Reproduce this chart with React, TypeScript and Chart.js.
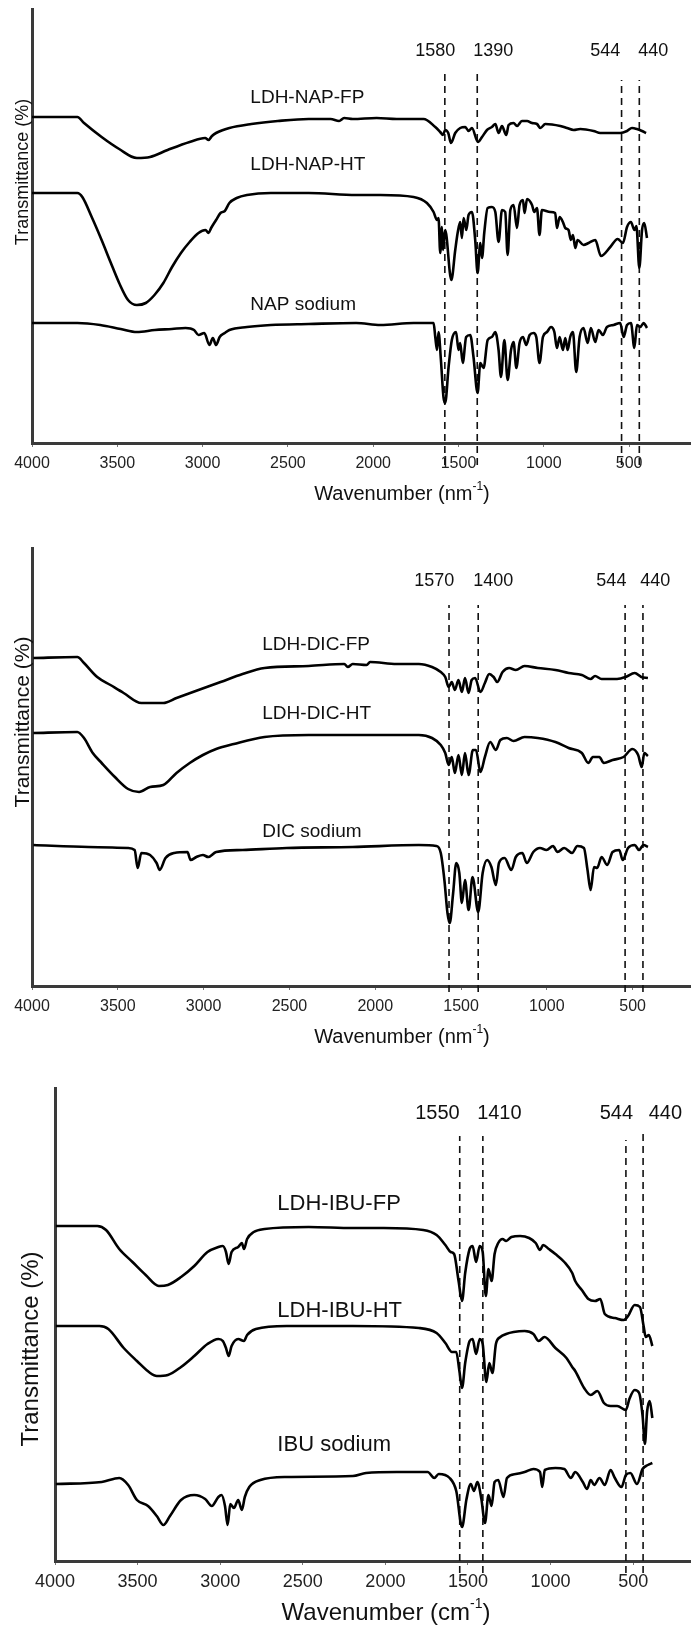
import React, { useEffect, useRef } from 'react';
import { Chart, registerables } from 'chart.js';
Chart.register(...registerables);

type Pt = [number, number];

const tickValues = [4000, 3500, 3000, 2500, 2000, 1500, 1000, 500];

// ---------- Panel 1 : naproxen ----------
const napFP: Pt[] = [[4000,326],[3734,326],[3695,320],[3592,306],[3489,294],[3385,285],[3308,286],[3205,293],[3076,301],[2985,305],[2965,303],[2945,307],[2921,310],[2843,315],[2714,319],[2559,322],[2378,324],[2250,324],[2200,322],[2170,325],[2120,324],[1980,325],[1862,324],[1705,324],[1636,316],[1607,311],[1591,308],[1578,313],[1560,310],[1544,300],[1519,310],[1490,315],[1460,316],[1441,312],[1421,315],[1386,301],[1362,306],[1333,313],[1304,316],[1284,319],[1265,310],[1245,317],[1220,308],[1206,318],[1177,320],[1157,317],[1128,322],[1098,322],[1069,320],[1040,319],[1020,315],[991,319],[903,317],[864,315],[825,313],[786,314],[708,312],[669,310],[551,310],[512,312],[483,315],[454,314],[424,312],[400,310]];
const napHT: Pt[] = [[4000,250],[3734,250],[3705,246],[3650,226],[3592,203],[3540,181],[3489,160],[3437,143],[3385,138],[3333,140],[3282,148],[3230,160],[3179,176],[3127,190],[3076,201],[3024,210],[2983,213],[2965,210],[2950,215],[2921,223],[2895,230],[2870,232],[2843,240],[2800,245],[2740,248],[2600,250],[2378,250],[2100,248],[1958,248],[1763,246],[1685,240],[1646,231],[1626,223],[1617,225],[1607,190],[1597,216],[1591,193],[1578,213],[1542,163],[1519,193],[1505,210],[1490,221],[1480,205],[1470,225],[1454,213],[1441,228],[1421,231],[1402,203],[1388,170],[1372,200],[1362,185],[1349,210],[1329,235],[1304,236],[1284,231],[1265,201],[1245,233],[1226,231],[1212,188],[1196,233],[1177,238],[1157,215],[1142,238],[1122,243],[1113,230],[1098,244],[1069,238],[1056,231],[1040,235],[1025,208],[1011,233],[962,231],[933,230],[923,215],[907,226],[888,221],[874,215],[855,213],[841,203],[829,208],[815,195],[802,203],[767,198],[737,200],[698,203],[665,187],[610,196],[567,204],[536,200],[512,216],[489,221],[469,213],[457,217],[440,175],[424,213],[411,220],[395,205]];
const napSodium: Pt[] = [[4000,120],[3734,120],[3600,118],[3480,114],[3385,111],[3280,113],[3180,114],[3100,115],[3050,113],[3024,108],[2990,110],[2960,98],[2940,105],[2921,98],[2900,106],[2870,110],[2843,113],[2740,116],[2600,118],[2378,119],[2100,120],[1958,118],[1763,120],[1646,120],[1636,106],[1626,93],[1617,111],[1603,83],[1588,46],[1578,40],[1558,76],[1539,103],[1514,111],[1500,93],[1490,100],[1475,80],[1455,106],[1431,108],[1412,86],[1388,50],[1372,80],[1353,75],[1329,103],[1304,106],[1284,111],[1265,93],[1251,66],[1231,103],[1212,63],[1192,93],[1177,101],[1161,75],[1142,100],[1122,106],[1103,98],[1083,108],[1060,110],[1044,106],[1025,80],[1005,106],[981,111],[958,116],[938,111],[923,95],[907,106],[888,93],[874,105],[860,93],[845,106],[829,111],[810,71],[790,106],[767,115],[743,100],[724,115],[698,101],[679,113],[653,108],[630,116],[591,118],[552,120],[532,106],[512,118],[489,120],[469,95],[454,118],[434,116],[415,120],[395,115]];
const napPeaks = [1580, 1390, 544, 440];

// ---------- Panel 2 : diclofenac ----------
const dicFP: Pt[] = [[3992,328],[3736,329],[3697,323],[3620,309],[3543,301],[3466,293],[3363,283],[3235,283],[3158,288],[3030,296],[2901,304],[2773,312],[2645,318],[2388,320],[2180,322],[2160,319],[2131,322],[2050,321],[2030,324],[1875,322],[1746,322],[1669,319],[1618,314],[1592,309],[1572,299],[1554,304],[1536,296],[1515,306],[1495,294],[1477,308],[1456,293],[1438,306],[1418,308],[1387,294],[1361,303],[1336,312],[1310,309],[1289,304],[1258,314],[1220,318],[1181,316],[1130,320],[1053,318],[950,316],[873,313],[796,311],[745,307],[719,310],[681,307],[591,307],[540,309],[488,313],[450,309],[411,308]];
const dicHT: Pt[] = [[3992,253],[3736,254],[3697,248],[3646,233],[3594,223],[3517,209],[3440,197],[3376,194],[3312,199],[3235,201],[3158,213],[3081,223],[3004,231],[2927,237],[2824,242],[2645,249],[2388,251],[2131,251],[1746,251],[1669,248],[1618,241],[1592,233],[1572,221],[1554,229],[1536,213],[1515,231],[1495,211],[1477,233],[1456,211],[1431,236],[1413,236],[1387,214],[1361,229],[1330,244],[1297,236],[1271,246],[1233,248],[1194,245],[1130,249],[1053,248],[950,244],[873,238],[796,233],[758,223],[732,229],[694,229],[668,223],[617,226],[553,229],[502,237],[468,231],[447,219],[432,233],[411,230]];
const dicSodium: Pt[] = [[3992,141],[3671,139],[3440,138],[3402,136],[3384,118],[3363,133],[3312,131],[3274,123],[3256,116],[3222,128],[3171,133],[3094,134],[3076,126],[3042,129],[3004,131],[2973,129],[2927,134],[2773,136],[2516,138],[2131,139],[1746,141],[1644,140],[1618,133],[1597,106],[1579,73],[1566,63],[1546,93],[1528,123],[1510,113],[1495,83],[1477,106],[1456,76],[1433,109],[1400,74],[1374,113],[1348,126],[1323,119],[1297,101],[1279,123],[1246,128],[1207,116],[1181,129],[1143,133],[1117,123],[1079,134],[1040,138],[1002,136],[964,140],[938,134],[899,138],[853,133],[822,140],[784,138],[763,116],[745,96],[725,119],[707,118],[681,129],[648,121],[617,134],[578,136],[558,126],[527,138],[488,141],[463,136],[437,141],[411,139]];
const dicPeaks = [1570, 1400, 544, 440];

// ---------- Panel 3 : ibuprofen ----------
const ibuFP: Pt[] = [[3995,335],[3744,335],[3691,331],[3611,312],[3531,299],[3451,286],[3371,275],[3317,276],[3237,284],[3157,295],[3077,309],[3011,314],[2984,315],[2965,309],[2949,297],[2931,309],[2891,314],[2869,318],[2856,312],[2837,322],[2797,329],[2731,332],[2464,334],[2197,333],[2010,333],[1771,331],[1690,326],[1637,316],[1605,309],[1584,307],[1557,280],[1536,260],[1517,288],[1490,312],[1472,315],[1451,299],[1429,315],[1411,309],[1392,265],[1376,292],[1357,280],[1339,307],[1317,318],[1291,322],[1269,320],[1237,324],[1184,325],[1130,323],[1090,318],[1064,311],[1045,316],[1011,312],[971,307],[917,299],[869,288],[851,280],[811,271],[771,262],[731,260],[699,262],[672,247],[611,243],[557,241],[531,245],[491,256],[459,254],[437,235],[424,224],[405,226],[384,215]];
const ibuHT: Pt[] = [[3995,235],[3731,235],[3677,232],[3584,213],[3504,200],[3424,188],[3384,185],[3317,186],[3237,194],[3157,205],[3077,217],[3011,222],[2984,220],[2965,213],[2949,205],[2931,215],[2891,222],[2856,220],[2837,226],[2784,232],[2597,235],[2197,235],[1797,233],[1690,228],[1637,218],[1597,209],[1571,209],[1552,190],[1536,173],[1517,198],[1490,220],[1472,222],[1451,207],[1429,222],[1411,217],[1389,179],[1371,198],[1352,188],[1331,217],[1304,224],[1269,227],[1224,229],[1157,230],[1104,227],[1072,220],[1037,224],[971,213],[904,203],[869,194],[851,190],[797,173],[757,166],[717,170],[677,158],[637,155],[597,155],[544,151],[523,162],[491,171],[464,168],[443,145],[429,117],[416,149],[400,160],[384,143]];
const ibuSodium: Pt[] = [[3995,77],[3717,79],[3611,83],[3557,76],[3504,61],[3437,55],[3384,45],[3344,36],[3304,45],[3237,61],[3157,66],[3091,62],[3051,55],[3011,64],[2992,66],[2971,55],[2955,36],[2939,57],[2917,53],[2891,61],[2869,51],[2851,64],[2824,74],[2757,81],[2597,84],[2197,85],[2117,88],[1931,89],[1744,89],[1704,83],[1677,87],[1611,83],[1571,70],[1536,34],[1509,62],[1483,77],[1464,70],[1443,79],[1419,62],[1397,38],[1376,66],[1357,55],[1339,79],[1317,81],[1285,64],[1264,83],[1211,87],[1157,89],[1104,92],[1064,89],[1051,74],[1035,91],[971,93],[917,92],[877,83],[851,89],[805,79],[779,72],[757,81],[736,76],[704,83],[672,76],[637,91],[611,83],[571,74],[544,86],[517,88],[477,77],[443,92],[411,96],[384,98]];
const ibuPeaks = [1550, 1410, 544, 440];

const FONT = '"Liberation Sans", Arial, Helvetica, sans-serif';

interface PanelCfg {
  top: number; canvasH: number; padTop: number; left: number; xAxisH: number;
  xMin: number; yMax: number; tickSize: number; tickPad: number;
  curves: Pt[][];
  peaks: number[]; peakTop: number[]; peakBottom: number; peakLabelWn: number[]; peakLabelH: number; peakFont: number;
  names: string[]; nameWn: number; nameH: number[]; nameFont: number;
  yTitle: { x: number; y: number; size: number };
  xTitle: { x: number; y: number; size: number; unit: string };
}

const panels: PanelCfg[] = [
  {
    top: 0, canvasH: 520, padTop: 9, left: 32, xAxisH: 77, xMin: 137, yMax: 434, tickSize: 16, tickPad: 7,
    curves: [napFP, napHT, napSodium],
    peaks: napPeaks, peakTop: [371, 371, 363, 363], peakBottom: -22, peakLabelWn: [1636, 1296, 640, 358], peakLabelH: 392, peakFont: 18,
    names: ['LDH-NAP-FP', 'LDH-NAP-HT', 'NAP sodium'], nameWn: 2720, nameH: [345, 278, 138], nameFont: 19,
    yTitle: { x: 23, y: 172, size: 18 },
    xTitle: { x: 402, y: 494, size: 20, unit: 'nm' },
  },
  {
    top: 520, canvasH: 540, padTop: 28, left: 32, xAxisH: 74, xMin: 160, yMax: 438, tickSize: 16, tickPad: 7,
    curves: [dicFP, dicHT, dicSodium],
    peaks: dicPeaks, peakTop: [381, 381, 381, 381], peakBottom: -6, peakLabelWn: [1656, 1312, 624, 368], peakLabelH: 405, peakFont: 18,
    names: ['LDH-DIC-FP', 'LDH-DIC-HT', 'DIC sodium'], nameWn: 2658, nameH: [341, 272, 154], nameFont: 19,
    yTitle: { x: 23.5, y: 202, size: 21 },
    xTitle: { x: 402, y: 517, size: 20, unit: 'nm' },
  },
  {
    top: 1060, canvasH: 569, padTop: 28, left: 55, xAxisH: 68, xMin: 150, yMax: 473, tickSize: 18, tickPad: 6,
    curves: [ibuFP, ibuHT, ibuSodium],
    peaks: ibuPeaks, peakTop: [425, 425, 421, 431], peakBottom: -12, peakLabelWn: [1685, 1310, 602, 305], peakLabelH: 448, peakFont: 20,
    names: ['LDH-IBU-FP', 'LDH-IBU-HT', 'IBU sodium'], nameWn: 2654, nameH: [357, 250, 116], nameFont: 22,
    yTitle: { x: 31, y: 289, size: 24 },
    xTitle: { x: 386, y: 553, size: 24, unit: 'cm' },
  },
];

function makeTextPlugin(p: PanelCfg) {
  return {
    id: 'panelText',
    afterDraw(chart: any) {
      const { ctx } = chart;
      const xs = chart.scales.x;
      const ys = chart.scales.y;
      ctx.save();
      ctx.fillStyle = '#111';
      ctx.textBaseline = 'middle';
      ctx.font = `${p.peakFont}px ${FONT}`;
      ctx.textAlign = 'center';
      p.peaks.forEach((pk, i) => {
        ctx.fillText(String(pk), xs.getPixelForValue(p.peakLabelWn[i]), ys.getPixelForValue(p.peakLabelH));
      });
      ctx.font = `${p.nameFont}px ${FONT}`;
      ctx.textAlign = 'left';
      p.names.forEach((n, i) => {
        ctx.fillText(n, xs.getPixelForValue(p.nameWn), ys.getPixelForValue(p.nameH[i]));
      });
      ctx.save();
      ctx.translate(p.yTitle.x, p.yTitle.y);
      ctx.rotate(-Math.PI / 2);
      ctx.font = `${p.yTitle.size}px ${FONT}`;
      ctx.textAlign = 'center';
      ctx.fillText('Transmittance (%)', 0, 0);
      ctx.restore();
      const s = p.xTitle.size;
      const main = `Wavenumber (${p.xTitle.unit}`;
      const sup = '-1';
      const tail = ')';
      ctx.font = `${s}px ${FONT}`;
      const wMain = ctx.measureText(main).width;
      const wTail = ctx.measureText(tail).width;
      ctx.font = `${Math.round(s * 0.6)}px ${FONT}`;
      const wSup = ctx.measureText(sup).width;
      const total = wMain + wSup + wTail;
      const x0 = p.xTitle.x - total / 2;
      ctx.textAlign = 'left';
      ctx.font = `${s}px ${FONT}`;
      ctx.fillText(main, x0, p.xTitle.y);
      ctx.font = `${Math.round(s * 0.6)}px ${FONT}`;
      ctx.fillText(sup, x0 + wMain, p.xTitle.y - s * 0.35);
      ctx.font = `${s}px ${FONT}`;
      ctx.fillText(tail, x0 + wMain + wSup, p.xTitle.y);
      ctx.restore();
    },
  };
}

function buildConfig(p: PanelCfg): any {
  const curveSets = p.curves.map((c) => ({
    data: c.map(([x, y]) => ({ x, y })),
    borderColor: '#000',
    borderWidth: 2.6,
    pointRadius: 0,
    fill: false,
    cubicInterpolationMode: 'monotone',
  }));
  const dashSets = p.peaks.map((pk, i) => ({
    data: [{ x: pk, y: p.peakBottom }, { x: pk, y: p.peakTop[i] }],
    borderColor: '#111',
    borderWidth: 1.6,
    borderDash: [7, 5],
    pointRadius: 0,
    fill: false,
    clip: false,
  }));
  return {
    type: 'line',
    data: { datasets: [...curveSets, ...dashSets] },
    options: {
      responsive: false,
      animation: false,
      devicePixelRatio: 1,
      events: [],
      layout: { padding: { top: p.padTop, left: p.left, right: 0, bottom: 0 } },
      plugins: { legend: { display: false }, tooltip: { enabled: false }, title: { display: false } },
      scales: {
        x: {
          type: 'linear',
          reverse: true,
          min: p.xMin,
          max: 4000,
          afterBuildTicks: (s: any) => { s.ticks = tickValues.map((v) => ({ value: v })); },
          afterFit: (s: any) => { s.height = p.xAxisH; },
          ticks: {
            autoSkip: false,
            maxRotation: 0,
            padding: p.tickPad,
            color: '#222',
            font: { family: FONT, size: p.tickSize },
            callback: (v: any) => String(v),
          },
          grid: { display: true, drawOnChartArea: false, drawTicks: true, tickLength: 4, color: '#777', lineWidth: 1 },
          border: { display: true, color: '#3a3a3a', width: 3 },
        },
        y: {
          type: 'linear',
          min: 0,
          max: p.yMax,
          afterFit: (s: any) => { s.width = 0; },
          ticks: { display: false },
          grid: { display: false, drawTicks: false },
          border: { display: true, color: '#3a3a3a', width: 3 },
        },
      },
    },
    plugins: [makeTextPlugin(p)],
  };
}

function Panel({ cfg }: { cfg: PanelCfg }) {
  const ref = useRef<HTMLCanvasElement>(null);
  useEffect(() => {
    const chart = new Chart(ref.current as HTMLCanvasElement, buildConfig(cfg));
    return () => chart.destroy();
  }, [cfg]);
  return (
    <canvas
      ref={ref}
      width={691}
      height={cfg.canvasH}
      style={{ position: 'absolute', left: 0, top: cfg.top, width: 691, height: cfg.canvasH, display: 'block' }}
    />
  );
}

export default function App() {
  return (
    <div style={{ position: 'absolute', left: 0, top: 0, width: 691, height: 1629, background: '#fff', overflow: 'hidden' }}>
      {panels.map((p, i) => (
        <Panel key={i} cfg={p} />
      ))}
    </div>
  );
}
